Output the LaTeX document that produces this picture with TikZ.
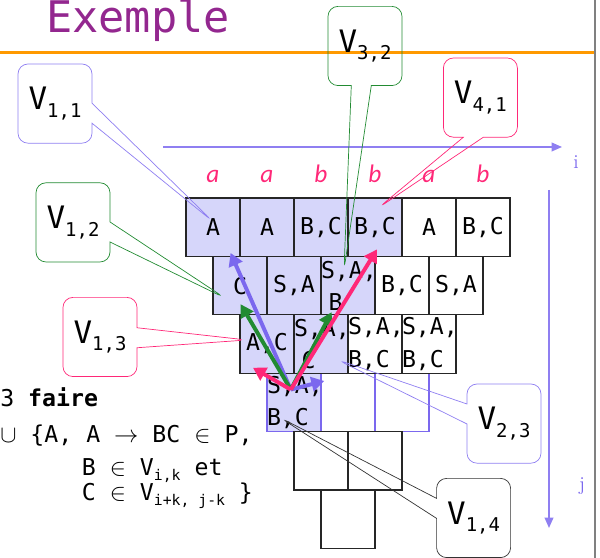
\documentclass[tikz,border=0pt]{standalone}
\usepackage{fontspec}
\newfontfamily\cellfont{DejaVu Sans Mono}
\newfontfamily\labfont{Carlito}
\usetikzlibrary{arrows.meta,calc,positioning,shapes.callouts}

\definecolor{titlepurple}{RGB}{147,39,143}
\definecolor{rulecol}{RGB}{255,153,0}
\definecolor{lavender}{RGB}{214,214,250}
\definecolor{slate}{RGB}{123,104,238}
\definecolor{leaf}{RGB}{34,139,50}
\definecolor{rose}{RGB}{255,40,120}

\newcommand{\Vsub}[1]{V\raisebox{-5.5pt}{\fontsize{13.5}{13.5}\selectfont #1}}
\newcommand{\isub}[1]{\raisebox{-3.5pt}{\fontsize{10.5}{10.5}\selectfont #1}}

\begin{document}
\begin{tikzpicture}[
  cell/.style={draw=black!85,line width=0.8pt,minimum height=1.46cm,text width=1.35cm,
    inner sep=0pt,align=center,font=\cellfont\fontsize{16.5}{23}\selectfont},
  full/.style={cell,fill=lavender},
  lbl/.style={text=rose,font=\labfont\itshape\fontsize{18}{18}\selectfont,inner sep=0pt,text depth=0pt},
  bubble/.style={rectangle callout,rounded corners=0.25cm,minimum width=1.85cm,minimum height=1.98cm,
    callout pointer width=0.5cm,line width=0.5pt,font=\cellfont\fontsize{22}{22}\selectfont},
  trace/.style={line width=2.8pt,-{Triangle[length=3.2mm,width=3.6mm]}},
  axis/.style={draw=slate!85,line width=1pt,-{Triangle[length=2.6mm,width=2.2mm]}},
  txt/.style={anchor=base west,inner sep=0pt,font=\cellfont\fontsize{16.5}{16.5}\selectfont}]
  \useasboundingbox (0,0) rectangle (15,13.95);

  % title and frame
  \node[anchor=base west,inner sep=0pt,text=titlepurple,font=\cellfont\fontsize{31}{31}\selectfont] (title) at (1.15,13.125) {Exemple};
  \draw[rulecol,line width=2.3pt] (0,12.64) -- (14.875,12.64);
  \draw[gray,line width=0.8pt] (14.875,0) -- (14.875,13.95);

  % row 4 first, its blue borders lie under the others
  \node[full,draw=slate,align=left] (v14) at (7.35,3.89) {S,A,\\B,C};
  \node[cell,draw=slate] (v24) at (8.7,3.89) {};
  \node[cell,draw=slate] (v34) at (10.05,3.89) {};

  \node[full] (v11) at (5.325,8.27) {A};
  \node[full] (v21) at (6.675,8.27) {A};
  \node[full] (v31) at (8.025,8.27) {B,C};
  \node[full] (v41) at (9.375,8.27) {B,C};
  \node[cell] (v51) at (10.725,8.27) {A};
  \node[cell] (v61) at (12.075,8.27) {B,C};

  \node[full] (v12) at (6.0,6.81) {C};
  \node[full] (v22) at (7.35,6.81) {S,A};
  \node[full,align=left] (v32) at (8.7,6.81) {S,A,\\~B};
  \node[cell] (v42) at (10.05,6.81) {B,C};
  \node[cell] (v52) at (11.4,6.81) {S,A};

  \node[full] (v13) at (6.675,5.35) {A,C};
  \node[full,align=left] (v23) at (8.025,5.35) {S,A,\\~C};
  \node[cell,align=left] (v33) at (9.375,5.35) {S,A,\\B,C};
  \node[cell,align=left] (v43) at (10.725,5.35) {S,A,\\B,C};

  \node[cell] (v15) at (8.025,2.43) {};
  \node[cell] (v25) at (9.375,2.43) {};
  \node[cell] (v16) at (8.7,0.97) {};

  % word
  \node[lbl,above=0.37cm of v11] (w1) {a};
  \node[lbl,above=0.37cm of v21] (w2) {a};
  \node[lbl,above=0.37cm of v31] (w3) {b};
  \node[lbl,above=0.37cm of v41] (w4) {b};
  \node[lbl,above=0.37cm of v51] (w5) {a};
  \node[lbl,above=0.37cm of v61] (w6) {b};

  % axes
  \coordinate (i0) at (4.075,10.275);
  \coordinate (i1) at (14.05,10.275);
  \coordinate (j0) at (13.725,9.2);
  \coordinate (j1) at (13.725,0.75);
  \draw[axis] (i0) -- (i1);
  \draw[axis] (j0) -- (j1);
  \node[text=slate,font=\fontsize{14}{14}\selectfont] (ilbl) at (14.4,9.9) {i};
  \node[text=slate,font=\fontsize{14}{14}\selectfont] (jlbl) at (14.55,1.8) {j};

  % the rule
  \node[txt] (l1) at (0,3.775) {3 \textbf{faire}};
  \node[txt] (l2) at (0,2.875) {$\cup$ \{A, A $\rightarrow$ BC $\in$ P,};
  \node[txt] (l3) at (2.04,2.06) {B $\in$ V\isub{i,k} et};
  \node[txt] (l4) at (2.04,1.425) {C $\in$ V\isub{i+k, j-k} \}};

  % splits of V(1,4)
  \coordinate (o) at ($(v14)+(-0.08,0.32)$);
  \coordinate (b1) at ($(v11.south east)+(-0.25,0.1)$);
  \coordinate (b2) at ($(v23.south)+(0.08,-0.18)$);
  \coordinate (g1) at ($(v13.north west)+(0.03,0.25)$);
  \coordinate (g2) at ($(v32.south west)+(0.28,0.08)$);
  \coordinate (r1) at ($(v41.south)+(0.05,0.19)$);
  \coordinate (r2) at ($(v13.south)+(-0.35,0.15)$);
  \draw[trace,slate] (o) -- (b1);
  \draw[trace,slate] (o) -- (b2);
  \draw[trace,leaf] (o) -- (g1);
  \draw[trace,leaf] (o) -- (g2);
  \draw[trace,rose] (o) -- (r1);
  \draw[trace,rose] (o) -- (r2);

  % callouts
  \node[bubble,draw=slate!85,callout absolute pointer={($(v11)+(0,0.14)$)}] (c11) at (1.375,11.36) {\Vsub{1,1}};
  \node[bubble,draw=leaf,callout absolute pointer={($(v12)+(-0.375,-0.31)$)}] (c12) at (1.825,8.39) {\Vsub{1,2}};
  \node[bubble,draw=rose,callout absolute pointer={($(v13)+(-0.5,0.1)$)}] (c13) at (2.5,5.525) {\Vsub{1,3}};
  \node[bubble,draw=leaf,callout absolute pointer={($(v32)+(-0.1,0.39)$)}] (c32) at (9.125,12.8) {\Vsub{3,2}};
  \node[bubble,draw=rose,callout absolute pointer={($(v41)+(0.08,0.48)$)}] (c41) at (12.01,11.51) {\Vsub{4,1}};
  \node[bubble,draw=slate!85,callout absolute pointer={($(v23)+(0.4,-0.39)$)}] (c23) at (12.6,3.36) {\Vsub{2,3}};
  \node[bubble,draw=black!80,callout absolute pointer={($(v14)+(-0.35,-0.38)$)}] (c14) at (11.84,1.0) {\Vsub{1,4}};
\end{tikzpicture}
\end{document}
